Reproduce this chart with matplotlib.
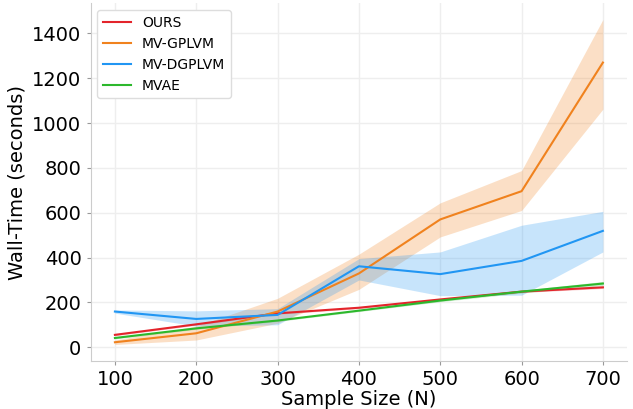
import matplotlib
matplotlib.use("Agg")
import matplotlib.pyplot as plt
import numpy as np

# sample sizes
sizes = [100, 200, 300, 400, 500, 600, 700]

# mean wall-time (seconds) and band limits per method
ours = [55, 102, 151, 176, 213, 248, 267]
ours_lo = [51, 98, 147, 172, 209, 244, 262]
ours_hi = [59, 106, 155, 180, 217, 252, 272]

gplvm = [22, 62, 159, 329, 570, 696, 1270]
gplvm_lo = [12, 32, 107, 258, 492, 610, 1062]
gplvm_hi = [32, 94, 218, 415, 644, 788, 1462]

dgplvm = [159, 126, 144, 361, 326, 385, 519]
dgplvm_lo = [152, 94, 100, 300, 230, 232, 425]
dgplvm_hi = [166, 162, 172, 395, 425, 544, 606]

mvae = [41, 84, 119, 163, 208, 248, 284]
mvae_lo = [37, 80, 115, 159, 203, 242, 275]
mvae_hi = [45, 88, 123, 167, 213, 254, 293]

series = [
    ("OURS", ours, ours_lo, ours_hi, "#e3242b"),
    ("MV-GPLVM", gplvm, gplvm_lo, gplvm_hi, "#f0821e"),
    ("MV-DGPLVM", dgplvm, dgplvm_lo, dgplvm_hi, "#2196f3"),
    ("MVAE", mvae, mvae_lo, mvae_hi, "#2cb82c"),
]

fig = plt.figure(figsize=(6.33, 4.09), dpi=100)
ax = fig.add_axes([0.143, 0.118, 0.848, 0.874])

for name, mean, lo, hi, color in series:
    ax.plot(sizes, mean, color=color, linewidth=1.5, label=name)
    ax.fill_between(sizes, lo, hi, color=color, alpha=0.25, linewidth=0)

ax.set_xlabel("Sample Size (N)", fontsize=14, labelpad=1)
ax.set_ylabel("Wall-Time (seconds)", fontsize=14)
ax.set_xticks(sizes)
ax.set_yticks(range(0, 1401, 200))
ax.tick_params(labelsize=14, color="#999999", length=3)
ax.grid(color="#eeeeee", linewidth=1)
ax.set_axisbelow(True)
for side in ("top", "right"):
    ax.spines[side].set_visible(False)
for side in ("left", "bottom"):
    ax.spines[side].set_color("#cccccc")

ax.legend(loc="upper left", fontsize=10, framealpha=1, edgecolor="#dddddd")

fig.savefig("out.png", dpi=100)
